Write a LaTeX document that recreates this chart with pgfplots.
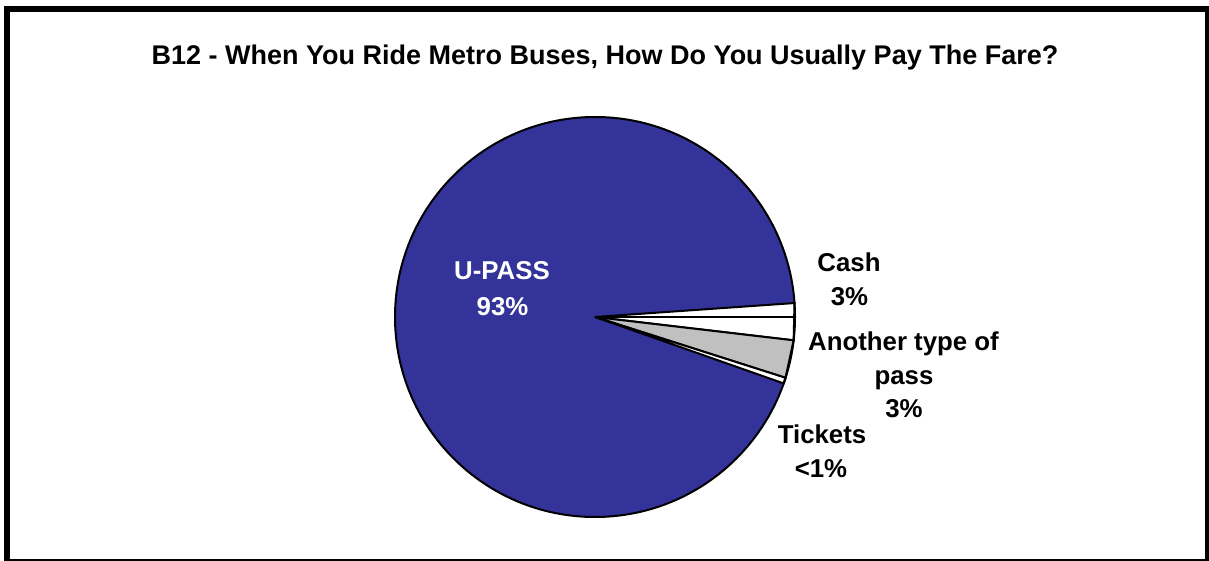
\documentclass[border=0pt]{standalone}
\usepackage{pgfplots}
\pgfplotsset{compat=1.18}
\usepgfplotslibrary{polar}
\usepackage{fontspec}
\setmainfont{Liberation Sans}
\definecolor{upass}{HTML}{333399}
\definecolor{otherpass}{HTML}{C0C0C0}
% 1 px of the reference = 0.5pt; y measured from the bottom
\begin{document}
\begin{tikzpicture}[lbl/.style={font=\bfseries\fontsize{12.9}{17}\selectfont, anchor=base, inner sep=0pt}]
\useasboundingbox (0,0) rectangle (604.5pt,280.5pt);
% frame
\fill[black] (2pt,0pt) rectangle (5pt,277.5pt);
\fill[black] (2pt,274.5pt) rectangle (604.5pt,277.5pt);
\fill[black] (602.5pt,0pt) rectangle (604.5pt,277.5pt);
\fill[black] (2pt,0pt) rectangle (604.5pt,1pt);
\node[font=\bfseries\fontsize{13.5}{16}\selectfont, anchor=base, inner sep=0pt] at (302.5pt,248pt)
  {B12 - When You Ride Metro Buses, How Do You Usually Pay The Fare?};
% pie: angle (degrees, counter-clockwise) and radius
% shares: U-PASS 93.5, Cash 3.0, Another type of pass 3.05, Tickets 0.47 (percent)
\begin{polaraxis}[
    at={(297.5pt,122pt)}, anchor=center,
    width=200pt, height=200pt, scale only axis,
    xmin=0, xmax=360, ymin=0, ymax=1,
    xtick=\empty, ytick=\empty, grid=none,
    axis line style={line width=1pt, black},
    axis background/.style={fill=upass},
    axis on top, clip=false,
]
\addplot[draw=black, line width=1pt, fill=white, mark=none] coordinates {(0,0) (4,1) (-6.7,1)} -- cycle;
\addplot[draw=black, line width=1pt, fill=otherpass, mark=none] coordinates {(0,0) (-6.7,1) (-17.7,1)} -- cycle;
\addplot[draw=black, line width=1pt, fill=white, mark=none] coordinates {(0,0) (-17.7,1) (-19.4,1)} -- cycle;
\end{polaraxis}
% labels
\node[lbl, text=white] at (251pt,140.5pt) {U-PASS};
\node[lbl, text=white] at (251.25pt,122.5pt) {93\%};
\node[lbl] at (424.5pt,144.5pt) {Cash};
\node[lbl] at (424.75pt,127.5pt) {3\%};
\node[lbl] at (451.75pt,105pt) {Another type of};
\node[lbl] at (452pt,88pt) {pass};
\node[lbl] at (452pt,71.5pt) {3\%};
\node[lbl] at (411pt,58.5pt) {Tickets};
\node[lbl] at (410.5pt,41.5pt) {<1\%};
\end{tikzpicture}
\end{document}
